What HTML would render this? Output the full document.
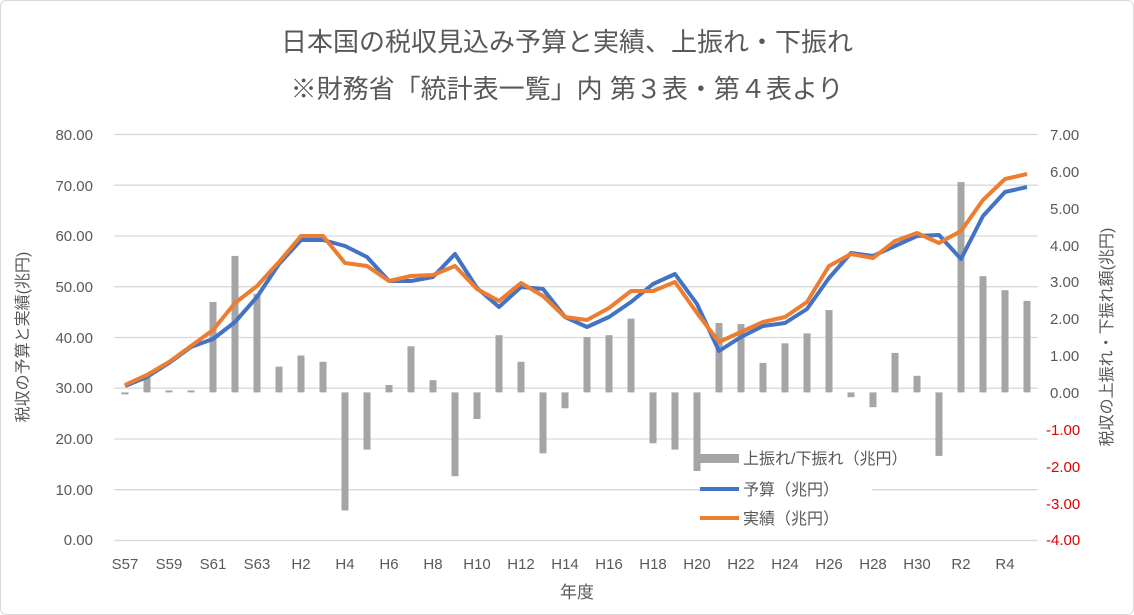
<!DOCTYPE html>
<html><head><meta charset="utf-8"><style>
body{margin:0;background:#fff}
svg{display:block;font-family:"Liberation Sans","Noto Sans CJK JP",sans-serif}
</style></head><body>
<svg width="1134" height="615" viewBox="0 0 1134 615" xmlns="http://www.w3.org/2000/svg">
<rect x="0.5" y="0.5" width="1133" height="614" rx="6" fill="#fff" stroke="#d9d9d9"/>
<g fill="#595959" font-size="26" text-anchor="middle">
<text x="567" y="51">日本国の税収見込み予算と実績、上振れ・下振れ</text>
<text x="567" y="98">※財務省「統計表一覧」内 第３表・第４表より</text>
</g>
<g stroke="#d9d9d9" stroke-width="1.3">
<line x1="114" x2="1038" y1="134.5" y2="134.5"/><line x1="114" x2="1038" y1="185.2" y2="185.2"/>
<line x1="114" x2="1038" y1="236" y2="236"/><line x1="114" x2="1038" y1="286.7" y2="286.7"/>
<line x1="114" x2="1038" y1="337.5" y2="337.5"/><line x1="114" x2="1038" y1="388.2" y2="388.2"/>
<line x1="114" x2="1038" y1="439" y2="439"/><line x1="114" x2="1038" y1="489.7" y2="489.7"/>
<line x1="114" x2="1038" y1="540.5" y2="540.5"/>
</g>
<g fill="#595959" font-size="15" text-anchor="end">
<text x="93" y="140">80.00</text><text x="93" y="191">70.00</text><text x="93" y="241">60.00</text>
<text x="93" y="292">50.00</text><text x="93" y="343">40.00</text><text x="93" y="393">30.00</text>
<text x="93" y="444">20.00</text><text x="93" y="495">10.00</text><text x="93" y="545">0.00</text>
</g>
<g font-size="15" text-anchor="start" fill="#595959">
<text x="1050" y="140">7.00</text><text x="1050" y="177">6.00</text><text x="1050" y="214">5.00</text>
<text x="1050" y="251">4.00</text><text x="1050" y="287">3.00</text><text x="1050" y="324">2.00</text>
<text x="1050" y="361">1.00</text><text x="1050" y="398">0.00</text>
<g fill="#e00000"><text x="1046" y="435">-1.00</text><text x="1046" y="472">-2.00</text>
<text x="1046" y="509">-3.00</text><text x="1046" y="545">-4.00</text></g>
</g>
<g fill="#595959" font-size="15" text-anchor="middle">
<text x="125" y="569">S57</text><text x="169" y="569">S59</text><text x="213" y="569">S61</text><text x="257" y="569">S63</text>
<text x="301" y="569">H2</text><text x="345" y="569">H4</text><text x="389" y="569">H6</text><text x="433" y="569">H8</text>
<text x="477" y="569">H10</text><text x="521" y="569">H12</text><text x="565" y="569">H14</text><text x="609" y="569">H16</text>
<text x="653" y="569">H18</text><text x="697" y="569">H20</text><text x="741" y="569">H22</text><text x="785" y="569">H24</text>
<text x="829" y="569">H26</text><text x="873" y="569">H28</text><text x="917" y="569">H30</text><text x="961" y="569">R2</text>
<text x="1005" y="569">R4</text>
<text x="577" y="598" font-size="17">年度</text>
<text transform="translate(28,337) rotate(-90)" font-size="16">税収の予算と実績(兆円)</text>
<text transform="translate(1112,337) rotate(-90)" font-size="16">税収の上振れ・下振れ額(兆円)</text>
</g>
<g fill="#a5a5a5">
<rect x="121.5" y="392.4" width="7" height="2"/>
<rect x="143.5" y="377.6" width="7" height="14.8"/>
<rect x="165.5" y="390.4" width="7" height="2"/>
<rect x="187.5" y="390.4" width="7" height="2"/>
<rect x="209.5" y="302" width="7" height="90.4"/>
<rect x="231.5" y="255.9" width="7" height="136.5"/>
<rect x="253.5" y="293.9" width="7" height="98.5"/>
<rect x="275.5" y="366.6" width="7" height="25.8"/>
<rect x="297.5" y="355.5" width="7" height="36.9"/>
<rect x="319.5" y="361.8" width="7" height="30.6"/>
<rect x="341.5" y="392.4" width="7" height="118.1"/>
<rect x="363.5" y="392.4" width="7" height="57.2"/>
<rect x="385.5" y="385" width="7" height="7.4"/>
<rect x="407.5" y="346.3" width="7" height="46.1"/>
<rect x="429.5" y="380.2" width="7" height="12.2"/>
<rect x="451.5" y="392.4" width="7" height="83.8"/>
<rect x="473.5" y="392.4" width="7" height="26.6"/>
<rect x="495.5" y="335.2" width="7" height="57.2"/>
<rect x="517.5" y="361.8" width="7" height="30.6"/>
<rect x="539.5" y="392.4" width="7" height="60.9"/>
<rect x="561.5" y="392.4" width="7" height="15.9"/>
<rect x="583.5" y="337" width="7" height="55.4"/>
<rect x="605.5" y="335.2" width="7" height="57.2"/>
<rect x="627.5" y="318.6" width="7" height="73.8"/>
<rect x="649.5" y="392.4" width="7" height="50.9"/>
<rect x="671.5" y="392.4" width="7" height="57.2"/>
<rect x="693.5" y="392.4" width="7" height="78.6"/>
<rect x="715.5" y="323" width="7" height="69.4"/>
<rect x="737.5" y="324.1" width="7" height="68.3"/>
<rect x="759.5" y="362.9" width="7" height="29.5"/>
<rect x="781.5" y="343.3" width="7" height="49.1"/>
<rect x="803.5" y="333.4" width="7" height="59"/>
<rect x="825.5" y="310.1" width="7" height="82.3"/>
<rect x="847.5" y="392.4" width="7" height="4.8"/>
<rect x="869.5" y="392.4" width="7" height="14.8"/>
<rect x="891.5" y="352.9" width="7" height="39.5"/>
<rect x="913.5" y="375.8" width="7" height="16.6"/>
<rect x="935.5" y="392.4" width="7" height="63.5"/>
<rect x="957.5" y="182.1" width="7" height="210.3"/>
<rect x="979.5" y="276.2" width="7" height="116.2"/>
<rect x="1001.5" y="290.2" width="7" height="102.2"/>
<rect x="1023.5" y="300.9" width="7" height="91.5"/>
</g>
<polyline fill="none" stroke="#4472c4" stroke-width="4" stroke-linejoin="round" points="125,386 147,377 169,363 191,347 213,339 235,322 257,297 279,264 301,240 323,240 345,246 367,257 389,281 411,281 433,277 455,254 477,288 499,307 521,287 543,289 565,317 587,327 609,317 631,302 653,284 675,274 697,304 719,351 741,337 763,326 785,323 807,309 829,278 851,253 873,256 895,246 917,236 939,235 961,259 983,216 1005,192 1027,187"/>
<polyline fill="none" stroke="#ed7d31" stroke-width="4" stroke-linejoin="round" points="125,385 147,375 169,362 191,346 213,330 235,303 257,286 279,262 301,236 323,236 345,263 367,266 389,281 411,276 433,275 455,266 477,289 499,301 521,283 543,296 565,317 587,320 609,308 631,291 653,291 675,282 697,313 719,342 741,332 763,322 785,317 807,302 829,266 851,254 873,258 895,241 917,233 939,243 961,231 983,200 1005,179 1027,174"/>
<rect x="702" y="446" width="170" height="84" fill="#fff"/>
<rect x="700" y="454" width="39" height="9" fill="#a5a5a5"/>
<line x1="700" x2="739" y1="489" y2="489" stroke="#4472c4" stroke-width="4"/>
<line x1="700" x2="739" y1="518" y2="518" stroke="#ed7d31" stroke-width="4"/>
<g fill="#595959" font-size="16">
<text x="743" y="464">上振れ/下振れ（兆円）</text>
<text x="743" y="495">予算（兆円）</text>
<text x="743" y="524">実績（兆円）</text>
</g>
</svg>
</body></html>
